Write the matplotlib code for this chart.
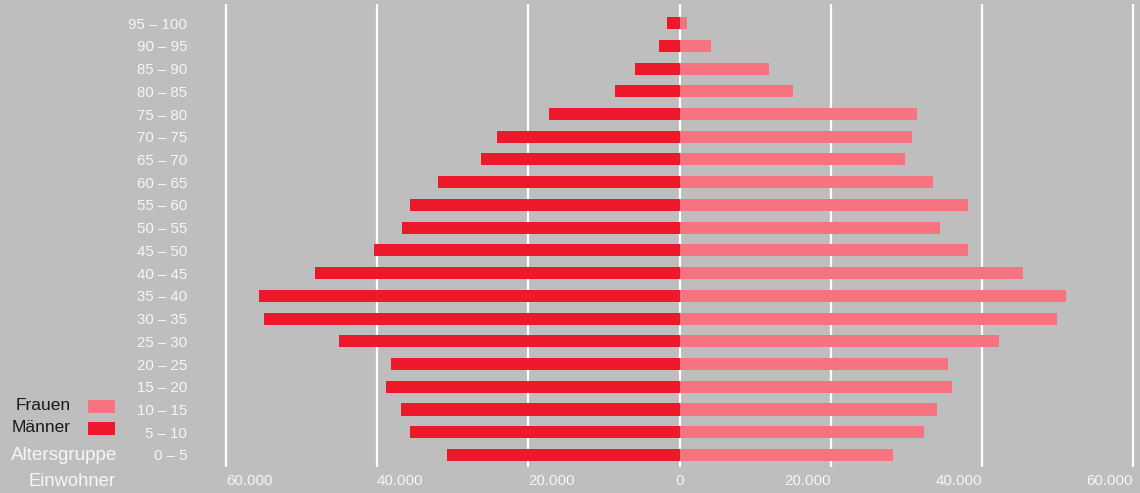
import matplotlib
matplotlib.use("Agg")
import matplotlib.pyplot as plt
from matplotlib.patches import Rectangle

plt.rcParams['font.family'] = ['Liberation Sans', 'DejaVu Sans']

age_groups = ["0 – 5", "5 – 10", "10 – 15", "15 – 20", "20 – 25", "25 – 30",
              "30 – 35", "35 – 40", "40 – 45", "45 – 50", "50 – 55", "55 – 60",
              "60 – 65", "65 – 70", "70 – 75", "75 – 80", "80 – 85", "85 – 90",
              "90 – 95", "95 – 100"]
maenner = [30800, 35700, 36800, 38800, 38200, 45000, 55000, 55600, 48200, 40400,
           36700, 35600, 32000, 26200, 24100, 17300, 8500, 5950, 2650, 1600]
frauen = [28200, 32300, 34000, 36100, 35500, 42200, 49900, 51100, 45400, 38200,
          34400, 38100, 33500, 29800, 30800, 31400, 15000, 11900, 4100, 1050]
x_ticks = [-60000, -40000, -20000, 0, 20000, 40000, 60000]
x_tick_labels = ["60.000", "40.000", "20.000", "0", "20.000", "40.000", "60.000"]

BG = "#bebebe"
RED = "#ed1829"
PINK = "#f6747f"
WHITE = "#f6f6f6"

W, H = 1140, 493
fig = plt.figure(figsize=(W / 100, H / 100), dpi=100, facecolor=BG)
ax = fig.add_axes([222 / W, 26 / H, (1137 - 222) / W, (489 - 26) / H])
ax.set_facecolor(BG)

y = list(range(len(age_groups)))
ax.barh(y, [-v for v in maenner], height=0.53, color=RED, zorder=3)
ax.barh(y, frauen, height=0.53, color=PINK, zorder=3)

ax.set_xlim(-60500, 60500)
ax.set_ylim(-0.53, 19.84)
for s in ax.spines.values():
    s.set_visible(False)

ax.set_xticks(x_ticks)
ax.set_xticklabels(x_tick_labels)
ax.grid(axis='x', color='white', linewidth=1.6, zorder=1)
ax.tick_params(axis='x', length=0, pad=5, labelsize=10.8, labelcolor=WHITE)
for lab, v in zip(ax.get_xticklabels(), x_ticks):
    if v < 0:
        lab.set_ha('left')
    elif v > 0:
        lab.set_ha('right')
    else:
        lab.set_ha('center')

ax.set_yticks(y)
ax.set_yticklabels(age_groups)
ax.tick_params(axis='y', length=0, pad=25, labelsize=10.8, labelcolor=WHITE)

def fx(px):
    return px / W

def fy(py):
    return (H - py) / H

fig.text(fx(71), fy(405), "Frauen", ha='right', va='center', fontsize=12.5, color="#1a1a1a")
fig.text(fx(71), fy(428), "Männer", ha='right', va='center', fontsize=12.5, color="#1a1a1a")
fig.patches.append(Rectangle((fx(88), fy(413)), 27 / W, 13 / H, transform=fig.transFigure,
                             facecolor=PINK, edgecolor='none'))
fig.patches.append(Rectangle((fx(88), fy(435)), 27 / W, 13 / H, transform=fig.transFigure,
                             facecolor=RED, edgecolor='none'))
fig.text(fx(117), fy(455), "Altersgruppe", ha='right', va='center', fontsize=13.6, color=WHITE)
fig.text(fx(116), fy(482), "Einwohner", ha='right', va='center', fontsize=13.2, color=WHITE)

fig.savefig("out.png", dpi=100, facecolor=BG)
